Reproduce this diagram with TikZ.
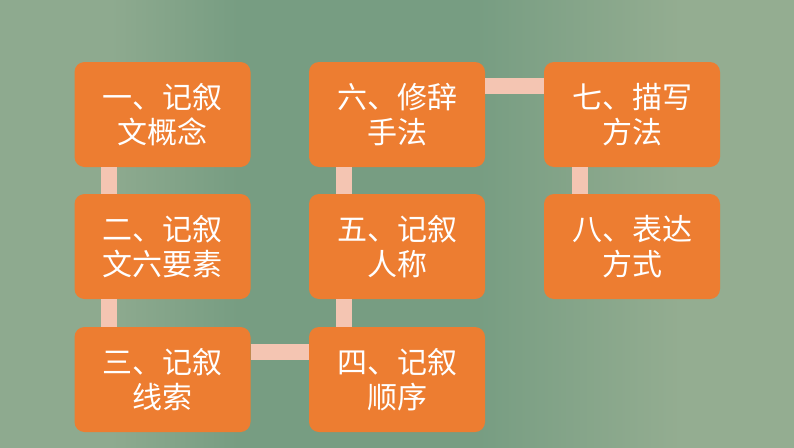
\documentclass[tikz,border=0pt]{standalone}
\usepackage{fontspec}
\newfontfamily\cjk{Noto Sans CJK SC}
\definecolor{boxorange}{HTML}{ED7D31}
\definecolor{linkpink}{HTML}{F4C5B2}
\definecolor{bgA}{HTML}{7A9E84}
\definecolor{bgB}{HTML}{8EAA8F}
\definecolor{bgC}{HTML}{779D82}
\definecolor{bgD}{HTML}{94AD91}
\definecolor{bgE}{HTML}{84A58A}
\pgfdeclarehorizontalshading{chalk}{100bp}{%
  color(0bp)=(bgA); color(12bp)=(bgA); color(20bp)=(bgB); color(32bp)=(bgB);
  color(40bp)=(bgC); color(55bp)=(bgC); color(68bp)=(bgD); color(80bp)=(bgD);
  color(92bp)=(bgE); color(100bp)=(bgE)}
\tikzset{
  x=1pt, y=-1pt,
  box/.style={fill=boxorange, rounded corners=10pt, minimum width=176pt,
    minimum height=105pt, inner sep=0pt, text=white, align=center,
    font=\cjk\fontsize{30}{35}\selectfont},
  link/.style={draw=linkpink, line width=16pt}
}
\begin{document}
\begin{tikzpicture}
\useasboundingbox (0,0) rectangle (794,447);
\shade[shading=chalk] (0,0) rectangle (794,447);
% boxes: columns x 75-250, 309-485, 544-720; rows y 62-167, 194-299, 327-432
\node[box] (b1) at (162.5,114.5) {一、记叙\\文概念};
\node[box] (b2) at (162.5,246.5) {二、记叙\\文六要素};
\node[box] (b3) at (162.5,379.5) {三、记叙\\线索};
\node[box] (b4) at (397,379.5) {四、记叙\\顺序};
\node[box] (b5) at (397,246.5) {五、记叙\\人称};
\node[box] (b6) at (397,114.5) {六、修辞\\手法};
\node[box] (b7) at (632,114.5) {七、描写\\方法};
\node[box] (b8) at (632,246.5) {八、表达\\方式};
% connectors
\draw[link] ([xshift=35pt]b1.south west) -- ([xshift=35pt]b2.north west);
\draw[link] ([xshift=35pt]b2.south west) -- ([xshift=35pt]b3.north west);
\draw[link] ([yshift=-25pt]b3.north east) -- ([yshift=-25pt]b4.north west);
\draw[link] ([xshift=35pt]b4.north west) -- ([xshift=35pt]b5.south west);
\draw[link] ([xshift=35pt]b5.north west) -- ([xshift=35pt]b6.south west);
\draw[link] ([yshift=-24pt]b6.north east) -- ([yshift=-24pt]b7.north west);
\draw[link] ([xshift=36pt]b7.south west) -- ([xshift=36pt]b8.north west);
\end{tikzpicture}
\end{document}
